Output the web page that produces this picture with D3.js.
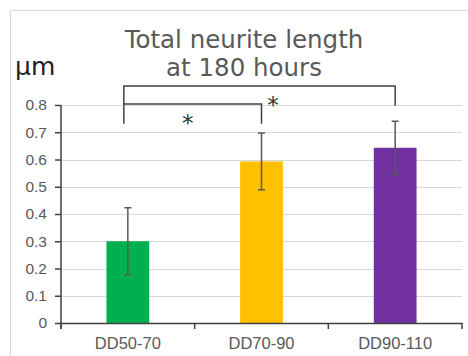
<!DOCTYPE html>
<html>
<head>
<meta charset="utf-8">
<script src="https://cdn.jsdelivr.net/npm/d3@7"></script>
<style>
  body { margin: 0; background: #fff; }
  svg { display: block; font-family: "DejaVu Sans", Verdana, sans-serif; }
</style>
</head>
<body>
<div class="bar-chart"></div>
<script>
// data
const categories = ['DD50-70', 'DD70-90', 'DD90-110'];
const means = [0.30, 0.593, 0.643];
const errors = [0.123, 0.104, 0.097];
const barColors = ['#00b050', '#ffc000', '#7030a0'];
const yTicks = [0, 0.1, 0.2, 0.3, 0.4, 0.5, 0.6, 0.7, 0.8];
// significance brackets: from / to category, top line and leg ends in µm
const bracketFrom = [0, 0];
const bracketTo = [1, 2];
const bracketTop = [0.804, 0.87];
const bracketLegFrom = [0.731, 0.804];
const bracketLegTo = [0.731, 0.797];
const bracketStar = [0.465, 0.55]; // where the * sits between the two legs

const svg_width = 468;
const svg_height = 356;
const margin = {top: 105, right: 6, bottom: 33, left: 61};

const svg = d3.select('.bar-chart').append('svg')
    .attr('width', svg_width).attr('height', svg_height);

// frame of the chart area
svg.append('path')
    .attr('d', `M10.5,${svg_height} V10.5 H${svg_width}`)
    .attr('fill', 'none').attr('stroke', '#d9d9d9').attr('stroke-width', 1);

const xScale = d3.scaleBand().domain(categories)
    .range([margin.left, svg_width - margin.right])
    .paddingInner(0.68).paddingOuter(0.34);
const yScale = d3.scaleLinear().domain([0, 0.8])
    .range([svg_height - margin.bottom, margin.top]);

// grid
svg.append('g').selectAll('line').data(yTicks.filter(d => d > 0)).join('line')
    .attr('x1', margin.left).attr('x2', svg_width - margin.right)
    .attr('y1', d => Math.round(yScale(d)) + 0.5).attr('y2', d => Math.round(yScale(d)) + 0.5)
    .attr('stroke', '#d9d9d9').attr('stroke-width', 1.2);

// bars
svg.append('g').selectAll('rect').data(categories).join('rect')
    .attr('x', d => xScale(d))
    .attr('width', xScale.bandwidth())
    .attr('y', (d, i) => yScale(means[i]))
    .attr('height', (d, i) => yScale(0) - yScale(means[i]))
    .attr('fill', (d, i) => barColors[i]);

// error bars
const err = svg.append('g').attr('stroke', '#595959').attr('stroke-width', 1.5).attr('fill', 'none');
categories.forEach((c, i) => {
    const cx = xScale(c) + xScale.bandwidth() / 2;
    const y1 = yScale(means[i] + errors[i]);
    const y0 = yScale(means[i] - errors[i]);
    err.append('path').attr('d', `M${cx - 3.5},${y1} H${cx + 3.5} M${cx},${y1} V${y0} M${cx - 3.5},${y0} H${cx + 3.5}`);
});

// y axis
const yAxis = d3.axisLeft(yScale).tickValues(yTicks)
    .tickFormat(d => d === 0 ? '0' : d.toFixed(1))
    .tickSizeInner(6).tickSizeOuter(0).tickPadding(8);
const yAxisDraw = svg.append('g').attr('transform', `translate(${margin.left},0)`).call(yAxis);
yAxisDraw.select('.domain').remove();
yAxisDraw.append('line')
    .attr('x1', 0).attr('x2', 0).attr('y1', yScale(0.8)).attr('y2', yScale(0) + 6)
    .attr('stroke', '#404040').attr('stroke-width', 1.5);
yAxisDraw.selectAll('.tick line').attr('stroke', '#404040').attr('stroke-width', 1.5);
yAxisDraw.selectAll('.tick text').attr('fill', '#595959').style('font-size', '15.5px');

// x axis
const xAxis = d3.axisBottom(xScale).tickSize(0).tickPadding(14);
const xAxisDraw = svg.append('g').attr('transform', `translate(0,${yScale(0)})`).call(xAxis);
xAxisDraw.select('.domain').attr('stroke', '#404040').attr('stroke-width', 1.5);
xAxisDraw.selectAll('.tick text').attr('fill', '#595959').style('font-size', '16.5px');
// tick marks at band edges
const step = xScale.step();
xAxisDraw.append('g').selectAll('line').data(d3.range(categories.length + 1)).join('line')
    .attr('x1', i => margin.left + i * step).attr('x2', i => margin.left + i * step)
    .attr('y1', 0).attr('y2', 6)
    .attr('stroke', '#404040').attr('stroke-width', 1.5);

// significance brackets
const br = svg.append('g');
bracketFrom.forEach((f, i) => {
    const xa = xScale(categories[f]) + xScale.bandwidth() / 2 - 4;
    const xb = xScale(categories[bracketTo[i]]) + xScale.bandwidth() / 2;
    const yt = yScale(bracketTop[i]);
    br.append('path')
        .attr('d', `M${xa},${yScale(bracketLegFrom[i])} V${yt} H${xb} V${yScale(bracketLegTo[i])}`)
        .attr('fill', 'none').attr('stroke', '#404040').attr('stroke-width', 1.5);
    br.append('text')
        .attr('x', xa + (xb - xa) * bracketStar[i])
        .attr('y', yt + 27)
        .attr('text-anchor', 'middle')
        .style('font-size', '23px').attr('fill', '#333')
        .text('*');
});

// title
const title = svg.append('text').attr('text-anchor', 'middle').attr('fill', '#595959')
    .style('font-size', '24.5px');
title.append('tspan').attr('x', 244).attr('y', 48).text('Total neurite length');
title.append('tspan').attr('x', 244).attr('y', 76).text('at 180 hours');

// unit label
svg.append('text').attr('x', 15).attr('y', 75).attr('fill', '#222')
    .style('font-size', '25px').text('µm');
</script>
</body>
</html>
